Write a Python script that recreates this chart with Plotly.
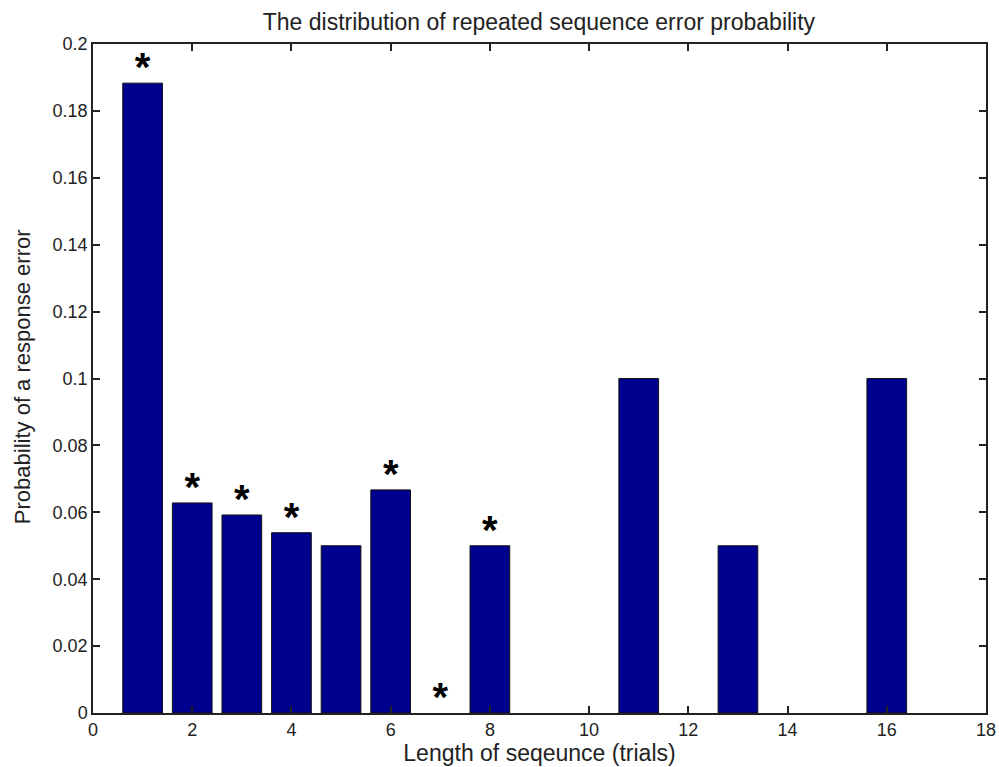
import plotly.graph_objects as go

# Sequence lengths (trials) and the probability of a response error at each length
lengths = [1, 2, 3, 4, 5, 6, 7, 8, 11, 13, 16]
error_prob = [0.1883, 0.0628, 0.0592, 0.0539, 0.05, 0.0667, 0.0, 0.05, 0.1, 0.05, 0.1]

# Lengths flagged as significant
starred = [1, 2, 3, 4, 6, 7, 8]

x_ticks = list(range(0, 19, 2))
y_ticks = [0, 0.02, 0.04, 0.06, 0.08, 0.1, 0.12, 0.14, 0.16, 0.18, 0.2]

FONT = "Liberation Sans, Arial, sans-serif"
TEXT_COLOR = "#222222"
BAR_COLOR = "#00008F"
STAR_OFFSET = 0.0036

prob_by_len = dict(zip(lengths, error_prob))
star_x = starred
star_y = [prob_by_len.get(k, 0.0) + STAR_OFFSET for k in starred]

fig = go.Figure()
fig.add_trace(go.Bar(
    x=lengths,
    y=error_prob,
    width=0.8,
    marker=dict(
        color=BAR_COLOR,
        # empty bars get no outline so nothing shows on the baseline
        line=dict(color="#111111", width=[1 if v > 0 else 0 for v in error_prob]),
    ),
    showlegend=False,
    hoverinfo="x+y",
))
fig.add_trace(go.Scatter(
    x=star_x,
    y=star_y,
    mode="text",
    text=["<b>*</b>"] * len(star_x),
    textposition="middle center",
    textfont=dict(family=FONT, size=40, color="#000000"),
    showlegend=False,
    hoverinfo="skip",
))

axis_common = dict(
    showline=True,
    linecolor=TEXT_COLOR,
    linewidth=1.5,
    mirror="ticks",
    ticks="inside",
    ticklen=7,
    tickwidth=1.5,
    tickcolor=TEXT_COLOR,
    showgrid=False,
    zeroline=False,
    automargin=False,
    tickfont=dict(family=FONT, size=18, color=TEXT_COLOR),
)

fig.update_layout(
    width=999,
    height=767,
    margin=dict(l=93, r=13, t=44, b=54),
    paper_bgcolor="white",
    plot_bgcolor="white",
    title=dict(
        text="The distribution of repeated sequence error probability",
        x=0.5395, xanchor="center",
        y=0.972, yanchor="middle",
        font=dict(family=FONT, size=23, color=TEXT_COLOR),
    ),
    xaxis=dict(
        range=[0, 18],
        tickvals=x_ticks,
        ticktext=[str(v) for v in x_ticks],
        title=dict(text="Length of seqeunce (trials)",
                   font=dict(family=FONT, size=23, color=TEXT_COLOR),
                   standoff=6),
        **axis_common,
    ),
    yaxis=dict(
        range=[0, 0.2],
        tickvals=y_ticks,
        ticktext=[("%g" % v) for v in y_ticks],
        **axis_common,
    ),
    bargap=0.2,
)

# y-axis title placed as a rotated annotation left of the tick labels
fig.add_annotation(
    text="Probability of a response error",
    xref="paper", yref="paper",
    x=-0.0795, y=0.502,
    xanchor="center", yanchor="middle",
    textangle=-90,
    showarrow=False,
    font=dict(family=FONT, size=22, color=TEXT_COLOR),
)

fig.write_html("out.html")
